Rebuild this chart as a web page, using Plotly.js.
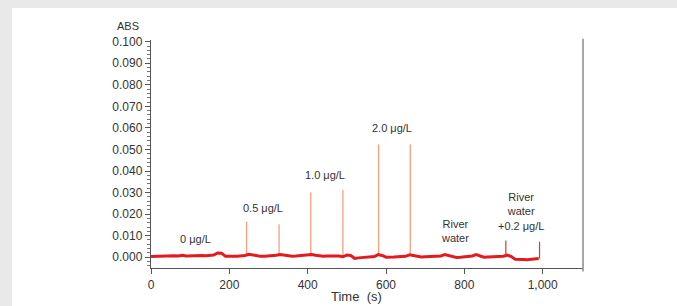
<!DOCTYPE html>
<html>
<head>
<meta charset="utf-8">
<script src="https://cdn.plot.ly/plotly-3.0.1.min.js"></script>
<style>
  html, body { margin: 0; padding: 0; background: #e9e9e9; width: 677px; height: 306px; overflow: hidden; }
  #chart { position: absolute; left: 12px; top: 8px; width: 665px; height: 298px; background: #ffffff; }
</style>
</head>
<body>
<div id="chart"></div>
<script>
// Baseline signal (time in s, absorbance)
const baseTime = [0,10,20,30,40,50,60,70,80,90,100,110,120,130,140,150,160,170,180,190,
  200,210,220,230,240,250,260,270,280,290,300,310,320,330,340,350,360,370,380,390,
  400,410,420,430,440,450,460,470,480,490,500,510,520,530,540,550,560,570,580,590,
  600,610,620,630,640,650,660,670,680,690,700,710,720,730,740,750,760,770,780,790,
  800,810,820,830,840,850,860,870,880,890,900,910,920,930,940,950,960,970,980,990];
const baseAbs = [0.0003,0.0004,0.0005,0.0004,0.0006,0.0005,0.0007,0.0006,0.0009,0.0006,
  0.0007,0.0006,0.0007,0.0008,0.0007,0.0009,0.0010,0.0020,0.0019,0.0005,
  0.0003,0.0004,0.0005,0.0006,0.0008,0.0014,0.0010,0.0006,0.0004,0.0005,
  0.0006,0.0007,0.0009,0.0013,0.0010,0.0006,0.0005,0.0006,0.0007,0.0008,
  0.0009,0.0013,0.0009,0.0006,0.0005,0.0006,0.0007,0.0008,0.0006,0.0002,
  0.0010,0.0008,-0.0006,-0.0003,-0.0002,0.0000,0.0001,0.0003,0.0012,0.0008,
  0.0000,-0.0001,0.0001,0.0002,0.0003,0.0004,0.0011,0.0007,0.0002,0.0001,
  0.0002,0.0003,0.0001,0.0002,0.0006,0.0012,0.0008,0.0001,-0.0001,0.0000,
  0.0001,0.0002,0.0006,0.0012,0.0006,0.0000,0.0001,0.0002,0.0003,0.0004,
  0.0005,0.0010,0.0003,-0.0010,-0.0012,-0.0011,-0.0012,-0.0010,-0.0009,-0.0006];

// Standard injections: peak times and peak heights
const stdTime = [244, 327, 408, 490, 581, 662];
const stdPeak = [0.0165, 0.0153, 0.0301, 0.0312, 0.0524, 0.0524];
const stdFoot = [0.0010, 0.0010, 0.0010, 0.0008, 0.0010, 0.0008];
// River water + 0.2 µg/L injections
const rivTime = [906, 992];
const rivPeak = [0.0078, 0.0072];
const rivFoot = [0.0008, -0.0006];

// Labels
const labelText = ['0 μg/L', '0.5 μg/L', '1.0 μg/L', '2.0 μg/L', 'River<br>water', 'River<br>water<br>+0.2 μg/L'];
const labelX = [114, 285, 444, 615, 777, 945];
const labelY = [0.0083, 0.0227, 0.0382, 0.0598, 0.0123, 0.0210];

const yTickVals = [0.000,0.010,0.020,0.030,0.040,0.050,0.060,0.070,0.080,0.090,0.100];
const xTickVals = [0, 200, 400, 600, 800, 1000];
const xTickText = ['0', '200', '400', '600', '800', '1,000'];

function spikes(t, peak, foot) {
  const x = [], y = [];
  for (let i = 0; i < t.length; i++) { x.push(t[i], t[i], null); y.push(foot[i], peak[i], null); }
  return {x, y};
}
const s1 = spikes(stdTime, stdPeak, stdFoot);
const s2 = spikes(rivTime, rivPeak, rivFoot);

const traces = [
  {x: s1.x, y: s1.y, type: 'scatter', mode: 'lines', line: {color: '#f3a07c', width: 1.3}, hoverinfo: 'skip', connectgaps: false},
  {x: s2.x, y: s2.y, type: 'scatter', mode: 'lines', line: {color: '#d23a30', width: 1.2}, hoverinfo: 'skip', connectgaps: false},
  {x: baseTime, y: baseAbs, type: 'scatter', mode: 'lines', line: {color: '#e31b1f', width: 3, shape: 'linear'}, hoverinfo: 'skip'}
];

const font = 'Liberation Sans, Arial, sans-serif';

const annotations = labelText.map((t, i) => ({
  x: labelX[i], y: labelY[i], xref: 'x', yref: 'y', text: t, showarrow: false,
  font: {family: font, size: 11, color: '#333333'}, align: 'center', xanchor: 'center', yanchor: 'middle'
}));
annotations.push({xref: 'paper', yref: 'paper', x: -0.053, y: 1.061, text: 'ABS', showarrow: false,
  font: {family: font, size: 11, color: '#333333'}, xanchor: 'center', yanchor: 'middle'});
annotations.push({xref: 'paper', yref: 'paper', x: 0.476, y: -0.125, text: 'Time  (s)', showarrow: false,
  font: {family: font, size: 13, color: '#333333'}, xanchor: 'center', yanchor: 'middle'});

const layout = {
  width: 665, height: 298,
  margin: {l: 139, r: 94, t: 32, b: 38},
  paper_bgcolor: '#ffffff', plot_bgcolor: '#ffffff',
  showlegend: false,
  font: {family: font, size: 12, color: '#333333'},
  xaxis: {
    range: [0, 1103], showgrid: false, zeroline: false,
    showline: true, linecolor: '#555555', linewidth: 1.2,
    ticks: 'outside', ticklen: 5, tickcolor: '#555555', tickwidth: 1,
    tickvals: xTickVals, ticktext: xTickText,
    tickfont: {family: font, size: 12, color: '#333333'}
  },
  yaxis: {
    range: [-0.005, 0.1008], showgrid: false, zeroline: false,
    showline: true, linecolor: '#555555', linewidth: 1.2,
    ticks: 'outside', ticklen: 5, tickcolor: '#555555', tickwidth: 1,
    tickvals: yTickVals, tickformat: '.3f',
    tickfont: {family: font, size: 12, color: '#333333'},
    minor: {dtick: 0.002, ticks: 'outside', ticklen: 2.5, tickcolor: '#777777', showgrid: false}
  },
  shapes: [
    {type: 'line', xref: 'x domain', yref: 'paper', x0: 1, x1: 1, y0: -0.015, y1: 1.005,
     line: {color: '#8a8a8a', width: 1.5}}
  ],
  annotations: annotations
};

Plotly.newPlot('chart', traces, layout, {staticPlot: true, displayModeBar: false});
</script>
</body>
</html>
